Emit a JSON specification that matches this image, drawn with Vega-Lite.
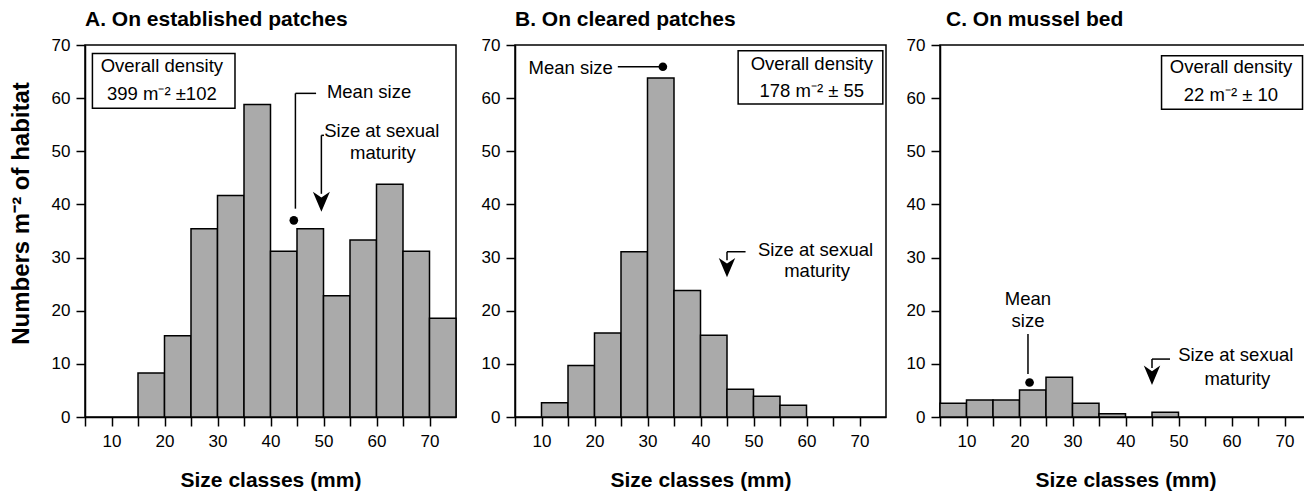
{
  "$schema": "https://vega.github.io/schema/vega-lite/v6.json",
  "padding": {"left": 8, "top": 8, "right": 0, "bottom": 0},
  "background": "white",
  "datasets": {
    "bars": [
      {"p": "A", "x": 15, "x2": 20, "y": 8.3},
      {"p": "A", "x": 20, "x2": 25, "y": 15.3},
      {"p": "A", "x": 25, "x2": 30, "y": 35.4},
      {"p": "A", "x": 30, "x2": 35, "y": 41.7},
      {"p": "A", "x": 35, "x2": 40, "y": 58.8},
      {"p": "A", "x": 40, "x2": 45, "y": 31.2},
      {"p": "A", "x": 45, "x2": 50, "y": 35.4},
      {"p": "A", "x": 50, "x2": 55, "y": 22.8},
      {"p": "A", "x": 55, "x2": 60, "y": 33.3},
      {"p": "A", "x": 60, "x2": 65, "y": 43.8},
      {"p": "A", "x": 65, "x2": 70, "y": 31.2},
      {"p": "A", "x": 70, "x2": 75, "y": 18.6},
      {"p": "B", "x": 10, "x2": 15, "y": 2.7},
      {"p": "B", "x": 15, "x2": 20, "y": 9.7},
      {"p": "B", "x": 20, "x2": 25, "y": 15.8},
      {"p": "B", "x": 25, "x2": 30, "y": 31.1},
      {"p": "B", "x": 30, "x2": 35, "y": 63.8},
      {"p": "B", "x": 35, "x2": 40, "y": 23.8},
      {"p": "B", "x": 40, "x2": 45, "y": 15.4},
      {"p": "B", "x": 45, "x2": 50, "y": 5.2},
      {"p": "B", "x": 50, "x2": 55, "y": 3.9},
      {"p": "B", "x": 55, "x2": 60, "y": 2.2},
      {"p": "C", "x": 5, "x2": 10, "y": 2.6},
      {"p": "C", "x": 10, "x2": 15, "y": 3.2},
      {"p": "C", "x": 15, "x2": 20, "y": 3.2},
      {"p": "C", "x": 20, "x2": 25, "y": 5.1},
      {"p": "C", "x": 25, "x2": 30, "y": 7.5},
      {"p": "C", "x": 30, "x2": 35, "y": 2.6},
      {"p": "C", "x": 35, "x2": 40, "y": 0.6},
      {"p": "C", "x": 45, "x2": 50, "y": 0.9}
    ],
    "boxes": [
      {"p": "A", "x": 6.4, "x2": 33.3, "y": 58.1, "y2": 68.4},
      {"p": "B", "x": 47.1, "x2": 74.4, "y": 58.9, "y2": 68.9},
      {"p": "C", "x": 46.8, "x2": 73.4, "y": 57.9, "y2": 68.0}
    ],
    "texts": [
      {"p": "A", "x": 19.5, "y": 66.0, "t": "Overall density"},
      {"p": "A", "x": 19.5, "y": 60.7, "t": "399 m⁻² ±102"},
      {"p": "A", "x": 58.6, "y": 61.1, "t": "Mean size"},
      {"p": "A", "x": 61.0, "y": 53.9, "t": "Size at sexual"},
      {"p": "A", "x": 61.2, "y": 49.6, "t": "maturity"},
      {"p": "B", "x": 15.5, "y": 65.6, "t": "Mean size"},
      {"p": "B", "x": 61.0, "y": 66.5, "t": "Overall density"},
      {"p": "B", "x": 61.0, "y": 61.3, "t": "178 m⁻² ± 55"},
      {"p": "B", "x": 61.7, "y": 31.4, "t": "Size at sexual"},
      {"p": "B", "x": 62.0, "y": 27.4, "t": "maturity"},
      {"p": "C", "x": 21.6, "y": 22.2, "t": "Mean"},
      {"p": "C", "x": 21.6, "y": 18.1, "t": "size"},
      {"p": "C", "x": 60.8, "y": 11.6, "t": "Size at sexual"},
      {"p": "C", "x": 61.1, "y": 7.2, "t": "maturity"},
      {"p": "C", "x": 59.9, "y": 65.9, "t": "Overall density"},
      {"p": "C", "x": 59.9, "y": 60.6, "t": "22 m⁻² ± 10"}
    ],
    "rules": [
      {"p": "A", "x": 44.7, "y": 39.2, "x2": 44.7, "y2": 60.9},
      {"p": "A", "x": 44.7, "y": 60.9, "x2": 48.6, "y2": 60.9},
      {"p": "A", "x": 49.6, "y": 53.0, "x2": 49.6, "y2": 42.0},
      {"p": "A", "x": 49.6, "y": 53.0, "x2": 50.1, "y2": 53.0},
      {"p": "B", "x": 24.4, "y": 65.9, "x2": 32.3, "y2": 65.9},
      {"p": "B", "x": 45.0, "y": 31.1, "x2": 45.0, "y2": 29.5},
      {"p": "B", "x": 45.0, "y": 31.1, "x2": 48.5, "y2": 31.1},
      {"p": "C", "x": 21.6, "y": 15.6, "x2": 21.6, "y2": 8.1},
      {"p": "C", "x": 45.0, "y": 10.9, "x2": 45.0, "y2": 9.2},
      {"p": "C", "x": 45.0, "y": 10.9, "x2": 48.4, "y2": 10.9}
    ],
    "dots": [
      {"p": "A", "x": 44.4, "y": 37.0},
      {"p": "B", "x": 32.9, "y": 65.9},
      {"p": "C", "x": 21.9, "y": 6.5}
    ],
    "heads": [
      {"p": "A", "x": 49.6, "y": 40.5},
      {"p": "B", "x": 45.0, "y": 28.1},
      {"p": "C", "x": 45.0, "y": 7.85}
    ]
  },
  "spacing": 22,
  "hconcat": [
    {
      "width": 371,
      "height": 372,
      "title": {"text": "A. On established patches"},
      "encoding": {
        "x": {"field": "x", "type": "quantitative", "scale": {"domain": [5, 75], "nice": false, "zero": false},
          "axis": {"values": [5, 10, 15, 20, 25, 30, 35, 40, 45, 50, 55, 60, 65, 70], "labelExpr": "datum.value % 10 === 0 ? datum.label : ''", "title": "Size classes (mm)"}},
        "y": {"field": "y", "type": "quantitative", "scale": {"domain": [0, 70], "nice": false},
          "axis": {"values": [0, 10, 20, 30, 40, 50, 60, 70], "title": "Numbers m⁻² of habitat", "titleFontSize": 24, "titleY": 168, "titlePadding": 18}}
      },
      "layer": [
        {"data": {"name": "bars"}, "transform": [{"filter": "datum.p === 'A'"}],
          "mark": {"type": "rect", "fill": "#aaaaaa", "stroke": "black", "strokeWidth": 1.5},
          "encoding": {"x2": {"field": "x2"}, "y2": {"datum": 0}}},
        {"data": {"name": "boxes"}, "transform": [{"filter": "datum.p === 'A'"}],
          "mark": {"type": "rect", "fill": "white", "stroke": "black", "strokeWidth": 1.5},
          "encoding": {"x2": {"field": "x2"}, "y2": {"field": "y2"}}},
        {"data": {"name": "rules"}, "transform": [{"filter": "datum.p === 'A'"}],
          "mark": {"type": "rule", "stroke": "black", "strokeWidth": 1.5},
          "encoding": {"x2": {"field": "x2"}, "y2": {"field": "y2"}}},
        {"data": {"name": "dots"}, "transform": [{"filter": "datum.p === 'A'"}],
          "mark": {"type": "point", "shape": "circle", "filled": true, "color": "black", "size": 75, "opacity": 1}},
        {"data": {"name": "heads"}, "transform": [{"filter": "datum.p === 'A'"}],
          "mark": {"type": "point", "shape": "M-1,-1.18L0,1.18L1,-1.18L0,-0.5Z", "filled": true, "color": "black", "size": 289, "opacity": 1}},
        {"data": {"name": "texts"}, "transform": [{"filter": "datum.p === 'A'"}],
          "mark": {"type": "text", "fontSize": 18.5, "color": "black", "baseline": "middle", "align": "center"},
          "encoding": {"text": {"field": "t"}}}
      ]
    },
    {
      "spacing": 18,
      "hconcat": [
        {
          "width": 371,
          "height": 372,
          "title": {"text": "B. On cleared patches"},
          "encoding": {
            "x": {"field": "x", "type": "quantitative", "scale": {"domain": [5, 75], "nice": false, "zero": false},
              "axis": {"values": [5, 10, 15, 20, 25, 30, 35, 40, 45, 50, 55, 60, 65, 70], "labelExpr": "datum.value % 10 === 0 ? datum.label : ''", "title": "Size classes (mm)"}},
            "y": {"field": "y", "type": "quantitative", "scale": {"domain": [0, 70], "nice": false},
              "axis": {"values": [0, 10, 20, 30, 40, 50, 60, 70], "title": null}}
          },
          "layer": [
            {"data": {"name": "bars"}, "transform": [{"filter": "datum.p === 'B'"}],
              "mark": {"type": "rect", "fill": "#aaaaaa", "stroke": "black", "strokeWidth": 1.5},
              "encoding": {"x2": {"field": "x2"}, "y2": {"datum": 0}}},
            {"data": {"name": "boxes"}, "transform": [{"filter": "datum.p === 'B'"}],
              "mark": {"type": "rect", "fill": "white", "stroke": "black", "strokeWidth": 1.5},
              "encoding": {"x2": {"field": "x2"}, "y2": {"field": "y2"}}},
            {"data": {"name": "rules"}, "transform": [{"filter": "datum.p === 'B'"}],
              "mark": {"type": "rule", "stroke": "black", "strokeWidth": 1.5},
              "encoding": {"x2": {"field": "x2"}, "y2": {"field": "y2"}}},
            {"data": {"name": "dots"}, "transform": [{"filter": "datum.p === 'B'"}],
              "mark": {"type": "point", "shape": "circle", "filled": true, "color": "black", "size": 75, "opacity": 1}},
            {"data": {"name": "heads"}, "transform": [{"filter": "datum.p === 'B'"}],
              "mark": {"type": "point", "shape": "M-1,-1.18L0,1.18L1,-1.18L0,-0.5Z", "filled": true, "color": "black", "size": 270, "opacity": 1}},
            {"data": {"name": "texts"}, "transform": [{"filter": "datum.p === 'B'"}],
              "mark": {"type": "text", "fontSize": 18.5, "color": "black", "baseline": "middle", "align": "center"},
              "encoding": {"text": {"field": "t"}}}
          ]
        },
        {
          "width": 371,
          "height": 372,
          "title": {"text": "C. On mussel bed", "dx": 6},
          "encoding": {
            "x": {"field": "x", "type": "quantitative", "scale": {"domain": [5, 75], "nice": false, "zero": false},
              "axis": {"values": [5, 10, 15, 20, 25, 30, 35, 40, 45, 50, 55, 60, 65, 70], "labelExpr": "datum.value % 10 === 0 ? datum.label : ''", "title": "Size classes (mm)"}},
            "y": {"field": "y", "type": "quantitative", "scale": {"domain": [0, 70], "nice": false},
              "axis": {"values": [0, 10, 20, 30, 40, 50, 60, 70], "title": null}}
          },
          "layer": [
            {"data": {"name": "bars"}, "transform": [{"filter": "datum.p === 'C'"}],
              "mark": {"type": "rect", "fill": "#aaaaaa", "stroke": "black", "strokeWidth": 1.5},
              "encoding": {"x2": {"field": "x2"}, "y2": {"datum": 0}}},
            {"data": {"name": "boxes"}, "transform": [{"filter": "datum.p === 'C'"}],
              "mark": {"type": "rect", "fill": "white", "stroke": "black", "strokeWidth": 1.5},
              "encoding": {"x2": {"field": "x2"}, "y2": {"field": "y2"}}},
            {"data": {"name": "rules"}, "transform": [{"filter": "datum.p === 'C'"}],
              "mark": {"type": "rule", "stroke": "black", "strokeWidth": 1.5},
              "encoding": {"x2": {"field": "x2"}, "y2": {"field": "y2"}}},
            {"data": {"name": "dots"}, "transform": [{"filter": "datum.p === 'C'"}],
              "mark": {"type": "point", "shape": "circle", "filled": true, "color": "black", "size": 75, "opacity": 1}},
            {"data": {"name": "heads"}, "transform": [{"filter": "datum.p === 'C'"}],
              "mark": {"type": "point", "shape": "M-1,-1.18L0,1.18L1,-1.18L0,-0.5Z", "filled": true, "color": "black", "size": 270, "opacity": 1}},
            {"data": {"name": "texts"}, "transform": [{"filter": "datum.p === 'C'"}],
              "mark": {"type": "text", "fontSize": 18.5, "color": "black", "baseline": "middle", "align": "center"},
              "encoding": {"text": {"field": "t"}}}
          ]
        }
      ]
    }
  ],
  "config": {
    "font": "Liberation Sans",
    "view": {"stroke": "black", "strokeWidth": 1.5},
    "axis": {"domainColor": "black", "domainWidth": 1.5, "tickColor": "black", "tickWidth": 1.5, "tickSize": 9,
      "labelFontSize": 17, "labelColor": "black", "labelFont": "Liberation Sans",
      "titleFontSize": 21, "titleFontWeight": "bold", "titleColor": "black", "titleFont": "Liberation Sans", "grid": false},
    "axisX": {"titlePadding": 20, "labelPadding": 7},
    "axisY": {"titlePadding": 20, "labelPadding": 6},
    "title": {"fontSize": 21, "fontWeight": "bold", "anchor": "start", "frame": "group", "color": "black", "offset": 6, "font": "Liberation Sans"}
  }
}
